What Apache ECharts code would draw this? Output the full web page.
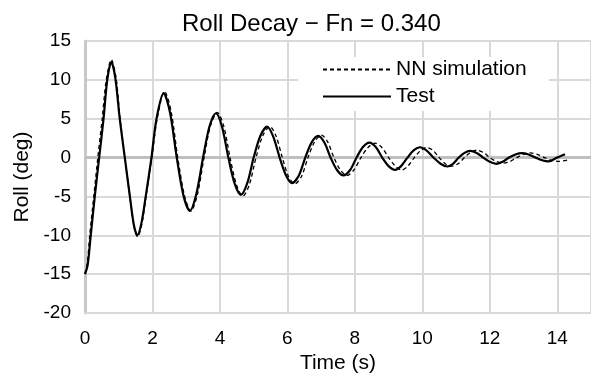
<!DOCTYPE html>
<html>
<head>
<meta charset="utf-8">
<script src="https://cdn.jsdelivr.net/npm/echarts@6/dist/echarts.min.js"></script>
<style>
  html, body { margin: 0; padding: 0; background: #fff; }
  #chart { width: 591px; height: 376px; }
</style>
</head>
<body>
<div id="chart"></div>
<script>
const xTicks = [0, 2, 4, 6, 8, 10, 12, 14];
const yTicks = [-20, -15, -10, -5, 0, 5, 10, 15];

const testTime = [0, 0.08, 0.17, 0.29, 0.42, 0.55, 0.66, 0.78, 0.9, 1.03, 1.18, 1.33, 1.45, 1.55, 1.67, 1.8, 1.97, 2.12, 2.33, 2.52, 2.72, 2.92, 3.11, 3.3, 3.5, 3.69, 3.88, 4.06, 4.25, 4.44, 4.62, 4.81, 5.0, 5.2, 5.4, 5.58, 5.77, 5.96, 6.14, 6.34, 6.53, 6.72, 6.91, 7.1, 7.28, 7.47, 7.66, 7.86, 8.05, 8.24, 8.43, 8.62, 8.81, 9.0, 9.19, 9.37, 9.56, 9.75, 9.93, 10.13, 10.33, 10.54, 10.74, 10.91, 11.08, 11.25, 11.42, 11.61, 11.8, 12.0, 12.2, 12.38, 12.57, 12.76, 12.95, 13.15, 13.35, 13.55, 13.74, 14.0, 14.23];
const testRoll = [-15, -13.8, -10, -5, 0, 5, 10, 12.3, 10.2, 5, 0, -5, -8.7, -10.0, -8.5, -5, 0, 5, 8.3, 5.8, 0, -4.9, -6.85, -4.7, 0, 4.0, 5.7, 4.0, 0, -3.4, -4.8, -3.3, 0, 2.8, 3.97, 2.7, 0, -2.3, -3.28, -2.3, 0, 1.95, 2.78, 1.9, 0, -1.6, -2.3, -1.6, 0, 1.35, 1.93, 1.35, 0, -1.1, -1.58, -1.1, 0, 0.95, 1.33, 0.9, 0, -0.8, -1.15, -0.8, 0, 0.6, 0.85, 0.6, 0, -0.55, -0.8, -0.55, 0, 0.4, 0.58, 0.4, 0, -0.35, -0.5, 0, 0.42];

const nnTime = [0, 0.07, 0.14, 0.26, 0.38, 0.51, 0.63, 0.78, 0.92, 1.04, 1.18, 1.33, 1.45, 1.56, 1.68, 1.81, 1.98, 2.14, 2.36, 2.55, 2.75, 2.95, 3.14, 3.33, 3.53, 3.72, 3.92, 4.11, 4.3, 4.49, 4.68, 4.87, 5.07, 5.27, 5.48, 5.66, 5.85, 6.03, 6.22, 6.42, 6.61, 6.81, 7.01, 7.19, 7.38, 7.57, 7.77, 7.97, 8.18, 8.39, 8.6, 8.8, 9.0, 9.2, 9.39, 9.57, 9.76, 9.95, 10.13, 10.32, 10.5, 10.68, 10.87, 11.06, 11.25, 11.43, 11.62, 11.81, 12.0, 12.2, 12.4, 12.6, 12.8, 13.0, 13.2, 13.41, 13.62, 13.83, 14.04, 14.33];
const nnRoll = [-15, -13.5, -10, -5, 0, 5, 10, 12.6, 10.3, 5, 0, -5, -8.8, -10.2, -8.7, -5, 0, 5, 8.5, 6.0, 0, -4.9, -6.9, -4.8, 0, 4.1, 5.8, 4.1, 0, -3.5, -4.95, -3.5, 0, 2.8, 4.0, 2.8, 0, -2.4, -3.38, -2.4, 0, 2.05, 2.9, 2.05, 0, -1.6, -2.3, -1.6, 0, 1.3, 1.85, 1.3, 0, -1.1, -1.6, -1.1, 0, 0.9, 1.3, 0.9, 0, -0.8, -1.1, -0.8, 0, 0.65, 0.95, 0.65, 0, -0.5, -0.72, -0.5, 0, 0.42, 0.6, 0.42, 0, -0.35, -0.5, -0.3];

const font = 'Liberation Sans, Arial, sans-serif';
const chart = echarts.init(document.getElementById('chart'));

chart.setOption({
  animation: false,
  backgroundColor: '#fff',
  title: {
    text: 'Roll Decay \u2212 Fn = 0.340',
    left: 177,
    top: 7,
    textStyle: { fontFamily: font, fontSize: 24, fontWeight: 'normal', color: '#000' },
  },
  grid: { left: 85, right: 0, top: 41, bottom: 63, outerBoundsMode: 'none' },
  legend: {
    orient: 'vertical',
    left: 298,
    top: 57,
    padding: [2, 22, 4, 24],
    backgroundColor: '#fff',
    itemWidth: 68,
    itemHeight: 14,
    itemGap: 6,
    // hide the point marker, keep the line sample
    itemStyle: { color: 'rgba(0,0,0,0)', borderWidth: 0, opacity: 0 },
    textStyle: { fontFamily: font, fontSize: 21, color: '#000' },
    data: ['NN simulation', 'Test'],
  },
  xAxis: {
    type: 'value',
    min: xTicks[0],
    max: 15,
    interval: 2,
    name: 'Time (s)',
    nameLocation: 'middle',
    nameGap: 36,
    nameTextStyle: { fontFamily: font, fontSize: 21, color: '#000' },
    axisLine: { onZero: false, lineStyle: { color: '#d9d9d9', width: 2 } },
    axisTick: { show: false },
    axisLabel: { showMaxLabel: false, margin: 16, fontFamily: font, fontSize: 19, color: '#000' },
    splitLine: { show: true, lineStyle: { color: '#d9d9d9', width: 2 } },
  },
  yAxis: {
    type: 'value',
    min: yTicks[0],
    max: yTicks[yTicks.length - 1],
    interval: 5,
    name: 'Roll (deg)',
    nameLocation: 'middle',
    nameGap: 48,
    nameTextStyle: { fontFamily: font, fontSize: 21, color: '#000' },
    axisLine: { show: true, lineStyle: { color: '#c8c8c8', width: 3 } },
    axisTick: { show: false },
    axisLabel: { margin: 14, fontFamily: font, fontSize: 19, color: '#000' },
    splitLine: { show: true, lineStyle: { color: '#d9d9d9', width: 2 } },
  },
  series: [
    {
      name: 'NN simulation',
      type: 'line',
      smooth: 0.3,
      symbol: 'none',
      data: nnTime.map((t, i) => [t, nnRoll[i]]),
      lineStyle: { color: '#000', width: 1.3, type: [4, 3] },
      itemStyle: { color: '#000' },
      markLine: {
        silent: true,
        symbol: 'none',
        label: { show: false },
        lineStyle: { color: '#bfbfbf', width: 3, type: 'solid' },
        data: [{ yAxis: 0 }],
        z: 1,
      },
      z: 3,
    },
    {
      name: 'Test',
      type: 'line',
      smooth: 0.3,
      symbol: 'none',
      data: testTime.map((t, i) => [t, testRoll[i]]),
      lineStyle: { color: '#000', width: 2.2 },
      itemStyle: { color: '#000' },
      z: 4,
    },
  ],
});
</script>
</body>
</html>
